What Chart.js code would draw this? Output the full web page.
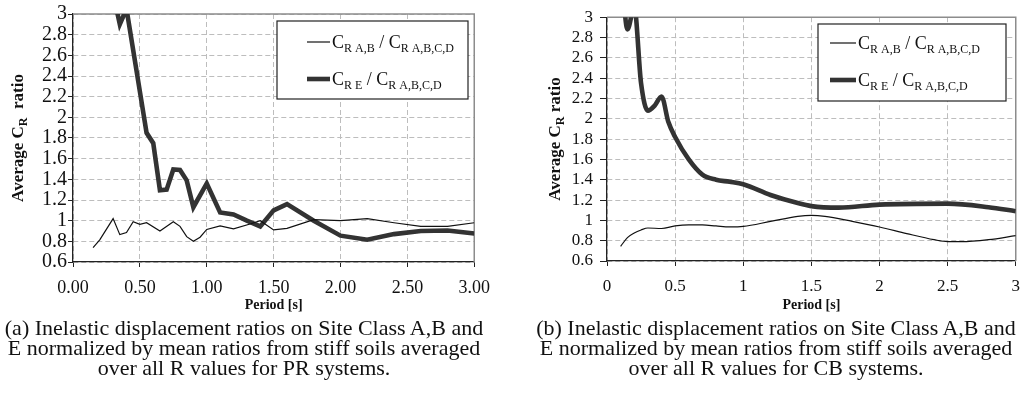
<!DOCTYPE html>
<html>
<head>
<meta charset="utf-8">
<script src="https://cdn.jsdelivr.net/npm/chart.js@4.4.1/dist/chart.umd.min.js"></script>
<style>
  body { margin: 0; background: #fff; }
  #fig { position: relative; width: 1030px; height: 410px; overflow: hidden;
         font-family: 'Liberation Serif', 'Times New Roman', serif; color: #111; }
  canvas { position: absolute; top: 0; }
  #c1 { left: 0; }
  #c2 { left: 515px; }
  .cap { position: absolute; top: 318px; font-size: 22px; line-height: 20px; text-align: center; white-space: nowrap; }
  #cap1 { left: 0; width: 488px; }
  #cap2 { left: 522px; width: 508px; }
</style>
</head>
<body>
<div id="fig">
  <canvas id="c1" width="500" height="318"></canvas>
  <canvas id="c2" width="515" height="318"></canvas>
  <div class="cap" id="cap1">(a) Inelastic displacement ratios on Site Class A,B and<br>E normalized by mean ratios from stiff soils averaged<br>over all R values for PR systems.</div>
  <div class="cap" id="cap2">(b) Inelastic displacement ratios on Site Class A,B and<br>E normalized by mean ratios from stiff soils averaged<br>over all R values for CB systems.</div>
</div>
<script>
// ---- data ----
const yTicks = [0.6, 0.8, 1, 1.2, 1.4, 1.6, 1.8, 2, 2.2, 2.4, 2.6, 2.8, 3];
const xTicks = [0, 0.5, 1, 1.5, 2, 2.5, 3];

// (a) PR systems
const prPeriodAB = [0.15, 0.2, 0.3, 0.35, 0.4, 0.45, 0.5, 0.55, 0.65, 0.75, 0.8, 0.85, 0.9, 0.95, 1.0, 1.1, 1.2, 1.33, 1.4, 1.5, 1.6, 1.8, 2.0, 2.2, 2.4, 2.6, 2.8, 3.0];
const prAB = [0.74, 0.815, 1.02, 0.865, 0.885, 0.99, 0.965, 0.98, 0.9, 0.99, 0.945, 0.845, 0.8, 0.84, 0.915, 0.95, 0.92, 0.97, 1.0, 0.91, 0.925, 1.01, 1.0, 1.02, 0.98, 0.945, 0.945, 0.98];
const prPeriodE = [0.3, 0.35, 0.4, 0.45, 0.5, 0.55, 0.6, 0.65, 0.7, 0.75, 0.8, 0.85, 0.9, 1.0, 1.1, 1.2, 1.3, 1.4, 1.5, 1.6, 1.8, 2.0, 2.2, 2.4, 2.6, 2.8, 3.0];
const prE = [3.2, 2.9, 3.05, 2.65, 2.25, 1.85, 1.75, 1.295, 1.3, 1.495, 1.49, 1.39, 1.13, 1.36, 1.08, 1.06, 1.0, 0.945, 1.1, 1.16, 1.0, 0.855, 0.815, 0.87, 0.9, 0.905, 0.875];

// (b) CB systems
const cbPeriodAB = [0.1, 0.15, 0.2, 0.25, 0.3, 0.4, 0.5, 0.6, 0.7, 0.8, 0.9, 1.0, 1.2, 1.4, 1.5, 1.6, 1.8, 2.0, 2.2, 2.4, 2.5, 2.6, 2.8, 3.0];
const cbAB = [0.745, 0.83, 0.875, 0.905, 0.925, 0.92, 0.945, 0.955, 0.955, 0.945, 0.935, 0.94, 0.99, 1.04, 1.05, 1.04, 0.99, 0.935, 0.87, 0.81, 0.79, 0.79, 0.81, 0.85];
const cbPeriodE = [0.1, 0.15, 0.2, 0.25, 0.3, 0.35, 0.4, 0.45, 0.5, 0.6, 0.7, 0.8, 0.9, 1.0, 1.2, 1.4, 1.5, 1.7, 2.0, 2.5, 2.8, 3.0];
const cbE = [3.6, 2.88, 3.1, 2.35, 2.08, 2.13, 2.22, 1.97, 1.82, 1.6, 1.45, 1.4, 1.38, 1.355, 1.25, 1.17, 1.14, 1.125, 1.155, 1.165, 1.13, 1.09];

const labelAB = 'C_{R A,B} / C_{R A,B,C,D}';
const labelE = 'C_{R E} / C_{R A,B,C,D}';

const FAMILY = "'Liberation Serif', 'Times New Roman', serif";
Chart.defaults.font.family = FAMILY;
Chart.defaults.color = '#111';

const pts = (xs, ys) => xs.map((x, i) => ({x: x, y: ys[i]}));

// text with _{subscript} parts
function splitSub(str) {
  const out = [];
  const re = /_\{([^}]*)\}/g;
  let last = 0, m;
  while ((m = re.exec(str))) {
    if (m.index > last) out.push([str.slice(last, m.index), false]);
    out.push([m[1], true]);
    last = re.lastIndex;
  }
  if (last < str.length) out.push([str.slice(last), false]);
  return out;
}
function drawRich(ctx, str, x, y, size, weight, center) {
  const parts = splitSub(str);
  const sub = Math.round(size * 0.68);
  const f = s => weight + ' ' + s + 'px ' + FAMILY;
  let w = 0;
  parts.forEach(p => { ctx.font = f(p[1] ? sub : size); w += ctx.measureText(p[0]).width; });
  let cx = center ? x - w / 2 : x;
  ctx.textAlign = 'left';
  ctx.textBaseline = 'alphabetic';
  parts.forEach(p => {
    ctx.font = f(p[1] ? sub : size);
    ctx.fillText(p[0], cx, y + (p[1] ? size * 0.22 : 0));
    cx += ctx.measureText(p[0]).width;
  });
}

// frame, rotated y title with subscript, boxed legend
const decor = {
  id: 'decor',
  beforeDatasetsDraw(chart) {
    const {ctx, chartArea: a} = chart;
    ctx.save();
    ctx.strokeStyle = '#8c8c8c';
    ctx.lineWidth = 1.5;
    ctx.beginPath();
    ctx.moveTo(a.left, a.top); ctx.lineTo(a.right, a.top); ctx.lineTo(a.right, a.bottom);
    ctx.stroke();
    ctx.restore();
  },
  afterDraw(chart, args, o) {
    const {ctx, chartArea: a} = chart;
    ctx.save();
    ctx.fillStyle = '#111';
    ctx.translate(o.titleX, (a.top + a.bottom) / 2);
    ctx.rotate(-Math.PI / 2);
    drawRich(ctx, o.title, 0, 6, 17, 'bold', true);
    ctx.restore();

    const b = o.box;
    ctx.save();
    ctx.fillStyle = '#fff';
    ctx.fillRect(b.x, b.y, b.w, b.h);
    ctx.strokeStyle = '#222';
    ctx.lineWidth = 1.2;
    ctx.strokeRect(b.x, b.y, b.w, b.h);
    chart.data.datasets.forEach((ds, i) => {
      const ry = b.y + b.rows[i];
      ctx.strokeStyle = ds.borderColor;
      ctx.lineWidth = ds.borderWidth;
      ctx.beginPath();
      ctx.moveTo(b.x + b.seg[0], ry);
      ctx.lineTo(b.x + b.seg[1], ry);
      ctx.stroke();
      ctx.fillStyle = '#111';
      drawRich(ctx, ds.label, b.x + b.seg[1] + 2, ry + 6, 18, 'normal', false);
    });
    ctx.restore();
  }
};

function makeChart(id, cfg) {
  return new Chart(document.getElementById(id), {
    type: 'line',
    data: {
      datasets: [
        {label: labelAB, data: cfg.ab, borderColor: '#111', borderWidth: 1.2, pointRadius: 0,
         tension: 0, cubicInterpolationMode: cfg.smooth ? 'monotone' : 'default'},
        {label: labelE, data: cfg.e, borderColor: '#333', borderWidth: 4.6, pointRadius: 0,
         tension: 0, cubicInterpolationMode: cfg.smooth ? 'monotone' : 'default'}
      ]
    },
    options: {
      responsive: false,
      animation: false,
      devicePixelRatio: 1,
      layout: {padding: {top: cfg.top, right: cfg.right, left: 0, bottom: 0}},
      plugins: {
        legend: {display: false},
        tooltip: {enabled: false},
        decor: {title: cfg.title, titleX: cfg.titleX, box: cfg.box}
      },
      scales: {
        x: {
          type: 'linear', min: 0, max: 3,
          afterBuildTicks: s => { s.ticks = xTicks.map(v => ({value: v})); },
          afterFit: s => { s.height = cfg.xh; },
          ticks: {callback: cfg.xfmt, font: {size: cfg.xfs}, color: '#111', padding: 10, maxRotation: 0, autoSkip: false},
          grid: {color: '#bdbdbd', lineWidth: 1, tickColor: '#222', tickLength: 5},
          border: {color: '#222', width: 1.3, dash: [5, 3]},
          title: {display: true, text: 'Period [s]', font: {size: 14, weight: 'bold'}, color: '#111', padding: {top: 2, bottom: 4}}
        },
        y: {
          type: 'linear', min: 0.6, max: 3,
          afterBuildTicks: s => { s.ticks = yTicks.map(v => ({value: v})); },
          afterFit: s => { s.width = cfg.yw; },
          ticks: {callback: v => String(+v.toFixed(1)), font: {size: cfg.yfs}, color: '#111', padding: cfg.ypad, autoSkip: false},
          grid: {color: '#bdbdbd', lineWidth: 1, tickColor: '#222', tickLength: cfg.ytl},
          border: {color: '#222', width: 1.3, dash: [5, 3]}
        }
      }
    },
    plugins: [decor]
  });
}

makeChart('c1', {
  ab: pts(prPeriodAB, prAB), e: pts(prPeriodE, prE), smooth: false,
  top: 14, right: 20, yw: 73, xh: 56, xfs: 18, yfs: 20, ypad: 1, ytl: 5,
  xfmt: v => v.toFixed(2),
  title: 'Average C_{R}  ratio', titleX: 17,
  box: {x: 277, y: 21, w: 191, h: 78, rows: [21, 58], seg: [30, 53]}
});

makeChart('c2', {
  ab: pts(cbPeriodAB, cbAB), e: pts(cbPeriodE, cbE), smooth: true,
  top: 16, right: 5, yw: 92, xh: 57, xfs: 17, yfs: 17, ypad: 7, ytl: 7,
  xfmt: v => String(v),
  title: 'Average C_{R} ratio', titleX: 39,
  box: {x: 303, y: 24, w: 188, h: 77, rows: [19, 56], seg: [12, 38]}
});
</script>
</body>
</html>
